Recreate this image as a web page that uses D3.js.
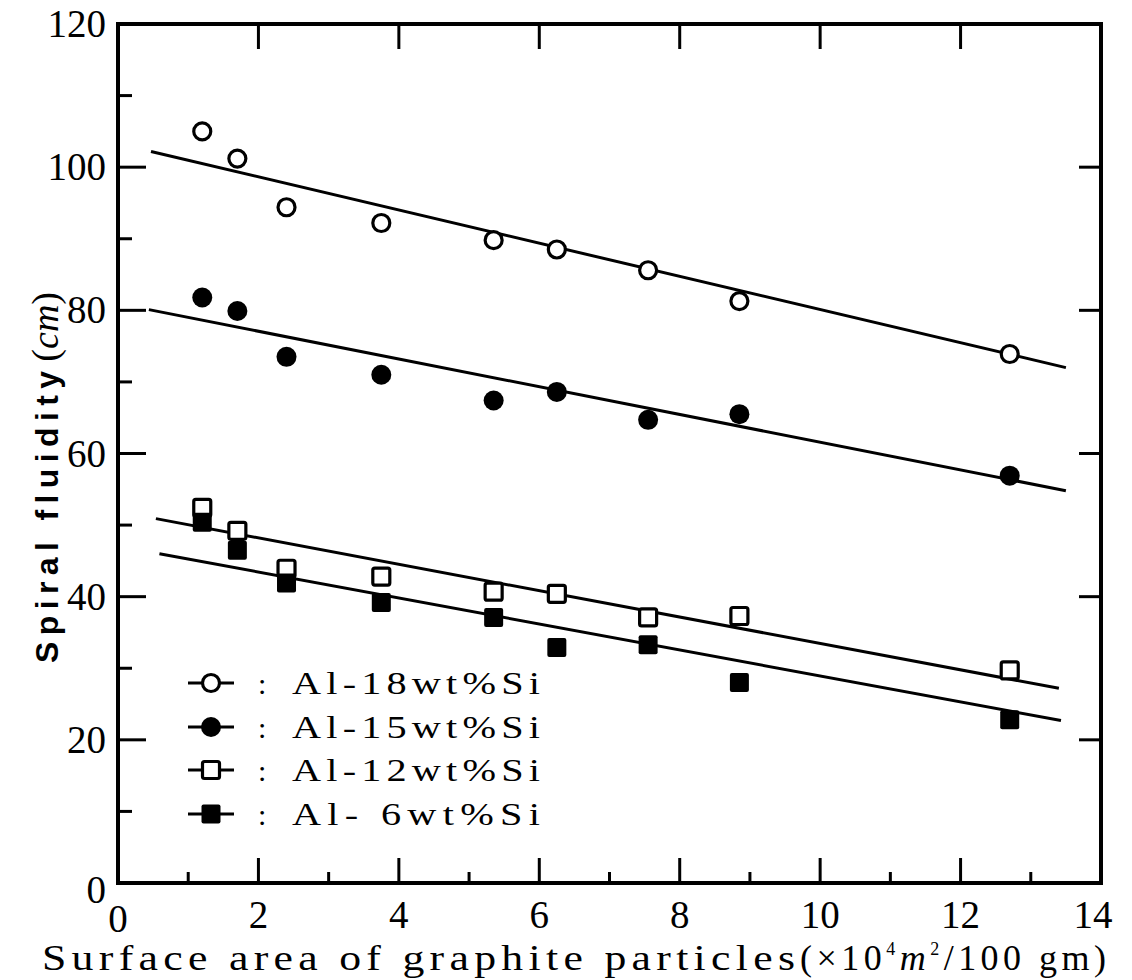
<!DOCTYPE html>
<html><head><meta charset="utf-8">
<script src="https://cdn.jsdelivr.net/npm/d3@7/dist/d3.min.js"></script>
<style>body{margin:0;background:#fff}</style>
</head><body>
<svg id="chart" width="1132" height="980"></svg>
<script>
// ---- data ----
const xValues = [1.2, 1.7, 2.4, 3.75, 5.35, 6.25, 7.55, 8.85, 12.7];
const al18 = [105.0, 101.2, 94.4, 92.2, 89.8, 88.5, 85.6, 81.3, 73.9];
const al15 = [81.8, 79.9, 73.5, 71.0, 67.4, 68.6, 64.7, 65.5, 56.9];
const al12 = [52.4, 49.2, 43.9, 42.8, 40.7, 40.4, 37.1, 37.3, 29.7];
const al6  = [50.4, 46.5, 41.9, 39.2, 37.1, 32.9, 33.3, 28.0, 22.8];
const fit18 = [[0.47, 102.2], [13.5, 72.0]];
const fit15 = [[0.44, 80.1], [13.5, 54.8]];
const fit12 = [[0.54, 50.9], [13.4, 27.2]];
const fit6  = [[0.59, 46.0], [13.43, 22.7]];
const seriesNames = ["Al-18wt%Si", "Al-15wt%Si", "Al-12wt%Si", "Al- 6wt%Si"];
const markerTypes = ["openCircle", "filledCircle", "openSquare", "filledSquare"];
const xTicks = [0, 2, 4, 6, 8, 10, 12, 14];
const xMinorTicks = [1, 3, 5, 7, 9, 11, 13];
const yTicks = [0, 20, 40, 60, 80, 100, 120];
const yMinorTicks = [10, 30, 50, 70, 90, 110];
const xLabel = "Surface area of graphite particles";
const yLabel = "Spiral fluidity";

// ---- layout ----
const svg = d3.select("#chart");
const L = 118, R = 1101, T = 24, B = 883;
const x = d3.scaleLinear().domain([0, 14]).range([L, R]);
const y = d3.scaleLinear().domain([0, 120]).range([B, T]);

const series = [al18, al15, al12, al6].map((vals, i) => ({
  name: seriesNames[i], type: markerTypes[i],
  pts: vals.map((v, j) => [xValues[j], v]),
  fit: [fit18, fit15, fit12, fit6][i]
}));

// frame
svg.append("rect").attr("x", L).attr("y", T).attr("width", R - L).attr("height", B - T)
  .attr("fill", "none").attr("stroke", "#000").attr("stroke-width", 4);

const g = svg.append("g").attr("stroke", "#000").attr("stroke-width", 3);
xTicks.filter(t => t > 0 && t < 14).forEach(t => {
  g.append("line").attr("x1", x(t)).attr("x2", x(t)).attr("y1", B).attr("y2", B - 25);
  g.append("line").attr("x1", x(t)).attr("x2", x(t)).attr("y1", T).attr("y2", T + 25);
});
xMinorTicks.forEach(t => {
  g.append("line").attr("x1", x(t)).attr("x2", x(t)).attr("y1", B).attr("y2", B - 11);
});
yTicks.filter(t => t > 0 && t < 120).forEach(t => {
  g.append("line").attr("x1", L).attr("x2", L + 28).attr("y1", y(t)).attr("y2", y(t));
  g.append("line").attr("x1", R).attr("x2", R - 22).attr("y1", y(t)).attr("y2", y(t));
});
yMinorTicks.forEach(t => {
  g.append("line").attr("x1", L).attr("x2", L + 14).attr("y1", y(t)).attr("y2", y(t));
});

// tick labels
const tickFont = "'Liberation Serif', 'DejaVu Serif', serif";
svg.append("g").selectAll("text").data(yTicks).join("text")
  .attr("x", 106).attr("y", d => y(d) + (d === 0 ? 20 : 13))
  .attr("text-anchor", "end").attr("font-family", tickFont).attr("font-size", 39)
  .text(d => d);
svg.append("g").selectAll("text").data(xTicks).join("text")
  .attr("x", d => x(d) - (d === 14 ? 8 : 0)).attr("y", d => d === 0 ? 932 : 928)
  .attr("text-anchor", "middle").attr("font-family", tickFont).attr("font-size", 39)
  .text(d => d);

// fit lines
svg.append("g").selectAll("line").data(series).join("line")
  .attr("x1", d => x(d.fit[0][0])).attr("y1", d => y(d.fit[0][1]))
  .attr("x2", d => x(d.fit[1][0])).attr("y2", d => y(d.fit[1][1]))
  .attr("stroke", "#000").attr("stroke-width", 3);

function drawMarker(sel, type, cx, cy) {
  if (type === "openCircle") {
    sel.append("circle").attr("cx", cx).attr("cy", cy).attr("r", 8.5)
      .attr("fill", "#fff").attr("stroke", "#000").attr("stroke-width", 3.2);
  } else if (type === "filledCircle") {
    sel.append("circle").attr("cx", cx).attr("cy", cy).attr("r", 10).attr("fill", "#000");
  } else if (type === "openSquare") {
    sel.append("rect").attr("x", cx - 8.5).attr("y", cy - 8.5).attr("width", 17).attr("height", 17)
      .attr("rx", 2).attr("fill", "#fff").attr("stroke", "#000").attr("stroke-width", 3.2);
  } else {
    sel.append("rect").attr("x", cx - 9.5).attr("y", cy - 9.5).attr("width", 19).attr("height", 19)
      .attr("rx", 2).attr("fill", "#000");
  }
}

// points
const pg = svg.append("g");
series.forEach(s => s.pts.forEach(p => drawMarker(pg, s.type, x(p[0]), y(p[1]))));

// legend
const legRowsY = [683, 727, 770, 814];
const sx = 1.3;
const lg = svg.append("g");
series.forEach((s, i) => {
  const cy = legRowsY[i];
  lg.append("line").attr("x1", 188).attr("x2", 234).attr("y1", cy).attr("y2", cy)
    .attr("stroke", "#000").attr("stroke-width", 3);
  drawMarker(lg, s.type, 211, cy);
  lg.append("text").attr("x", 258).attr("y", cy + 11).attr("font-family", tickFont)
    .attr("font-size", 30).text(":");
  lg.append("text").attr("transform", `translate(292,${cy + 11}) scale(${sx},1)`)
    .attr("font-family", tickFont)
    .attr("font-size", 31).attr("textLength", 248 / sx).attr("lengthAdjust", "spacing")
    .text(s.name);
});

// x axis title
const xs = 1.25;
svg.append("text").attr("transform", `translate(42,970) scale(${xs},1)`).attr("font-family", tickFont)
  .attr("font-size", 35).attr("textLength", 753 / xs).attr("lengthAdjust", "spacing").text(xLabel);
const unit = svg.append("text").attr("x", 800).attr("y", 970).attr("font-family", tickFont)
  .attr("font-size", 36).attr("textLength", 306).attr("lengthAdjust", "spacing");
unit.append("tspan").text("(×10");
unit.append("tspan").attr("font-size", 18).attr("dy", -15).text("4");
unit.append("tspan").attr("dy", 15).attr("font-style", "italic").text("m");
unit.append("tspan").attr("font-size", 18).attr("dy", -15).text("2");
unit.append("tspan").attr("dy", 15).text("/100 gm)");

// y axis title
const yt = svg.append("text").attr("transform", "translate(58,663) rotate(-90)")
  .attr("font-family", "'Liberation Sans', 'DejaVu Sans', sans-serif").attr("font-size", 32)
  .attr("font-weight", "bold");
yt.append("tspan").attr("textLength", 292).attr("lengthAdjust", "spacing").text(yLabel);
yt.append("tspan").attr("font-family", tickFont).attr("font-weight", "normal").attr("font-size", 38).attr("dx", 3).text("(");
yt.append("tspan").attr("font-family", tickFont).attr("font-weight", "normal").attr("font-size", 38).attr("font-style", "italic").text("cm");
yt.append("tspan").attr("font-family", tickFont).attr("font-weight", "normal").attr("font-size", 38).text(")");
</script>
</body></html>
